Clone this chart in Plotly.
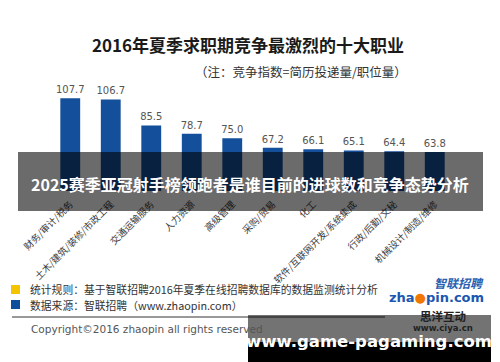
import plotly.graph_objects as go

categories = ["财务/审计/税务", "土木/建筑/装修/市政工程", "交通运输服务", "人力资源", "高级管理",
              "采购/贸易", "化工", "软件/互联网开发/系统集成", "行政/后勤/文秘", "机械设计/制造/维修"]
values = [107.7, 106.7, 85.5, 78.7, 75.0, 67.2, 66.1, 65.1, 64.4, 63.8]
value_labels = ["107.7", "106.7", "85.5", "78.7", "75.0", "67.2", "66.1", "65.1", "64.4", "63.8"]

W, H = 500, 362
L, R, T, B = 50, 45, 77, 171
PW, PH = W - L - R, H - T - B

def px(x):
    return (x - L) / PW

def py(y):
    return (H - B - y) / PH

CJK = "Noto Sans CJK SC"

fig = go.Figure(go.Bar(
    x=categories, y=values, width=0.49,
    marker=dict(color="#134f9a", line=dict(width=0)),
    text=value_labels, textposition="outside", constraintext="none",
    textfont=dict(family="DejaVu Sans", size=10, color="#555555"),
    cliponaxis=False,
))

fig.update_layout(
    width=W, height=H, margin=dict(l=L, r=R, t=T, b=B),
    paper_bgcolor="white", plot_bgcolor="white", showlegend=False,
    xaxis=dict(range=[-0.5, 9.5], tickangle=-45, showgrid=False, showline=False, ticks="",
               ticklabelstandoff=5,
               tickfont=dict(family=CJK, size=9.5, color="#3a3a3a")),
    yaxis=dict(range=[32, 125], visible=False),
)

shapes = [
    dict(type="rect", xref="paper", yref="paper", x0=px(18), x1=px(483), y0=py(211), y1=py(152),
         fillcolor="rgba(0,0,0,0.58)", line=dict(width=0), layer="above"),
    dict(type="rect", xref="paper", yref="paper", x0=px(11), x1=px(20), y0=py(294), y1=py(285),
         fillcolor="#f5c400", line=dict(width=0), layer="above"),
    dict(type="rect", xref="paper", yref="paper", x0=px(11), x1=px(20), y0=py(309), y1=py(300),
         fillcolor="#0d4f9a", line=dict(width=0), layer="above"),
    dict(type="line", xref="paper", yref="paper", x0=px(12), x1=px(385), y0=py(317), y1=py(317),
         line=dict(color="#333333", width=1), layer="above"),
    dict(type="rect", xref="paper", yref="paper", x0=px(248), x1=px(491), y0=py(342), y1=py(315),
         fillcolor="rgba(0,0,0,0.55)", line=dict(width=0), layer="above"),
    dict(type="rect", xref="paper", yref="paper", x0=px(248), x1=px(491), y0=py(362), y1=py(342),
         fillcolor="#000000", line=dict(width=0), layer="above"),
]
fig.update_layout(shapes=shapes)

def ann(text, x, y, size, color, family=CJK, xanchor="left", bold=False, align="center"):
    if bold:
        text = "<b>" + text + "</b>"
    return dict(text=text, x=px(x), y=py(y), xref="paper", yref="paper", showarrow=False,
                xanchor=xanchor, yanchor="middle", align=align,
                font=dict(family=family, size=size, color=color))

annotations = [
    ann("2016年夏季求职期竞争最激烈的十大职业", 248, 44, 17, "#1a1a1a", xanchor="center", bold=True),
    ann("（注：竞争指数=简历投递量/职位量）", 301, 71, 12.5, "#333333", xanchor="center"),
    ann("2025赛季亚冠射手榜领跑者是谁目前的进球数和竞争态势分析", 250, 184, 16, "white", xanchor="center", bold=True),
    ann("统计规则：基于智联招聘2016年夏季在线招聘数据库的数据监测统计分析", 28, 289, 10.8, "#333333"),
    ann("数据来源：智联招聘（www.zhaopin.com）", 28, 305, 10.8, "#333333"),
    ann("Copyright©2016 zhaopin all rights reserved", 29, 329, 10.5, "#555555", family="DejaVu Sans"),
    ann("<i>智联招聘</i>", 486, 282, 12, "#2a5fb0", xanchor="right", bold=True),
    ann("zha<span style='color:#f07800'>●</span>pin.com", 486, 297, 13, "#1b56b0", family="DejaVu Sans", xanchor="right", bold=True),
    ann("思洋互动", 443, 316, 11.5, "#222222", xanchor="center", bold=True),
    ann("www.ciya.cn", 443, 328, 8.5, "#222222", family="DejaVu Sans", xanchor="center", bold=True),
    ann("www.game-pagaming.com", 369, 341, 16.5, "white", family="DejaVu Sans", xanchor="center", bold=True),
]
fig.update_layout(annotations=annotations)

fig.write_html("out.html", config={"displayModeBar": False},
               post_script="document.body.style.margin='0';")
